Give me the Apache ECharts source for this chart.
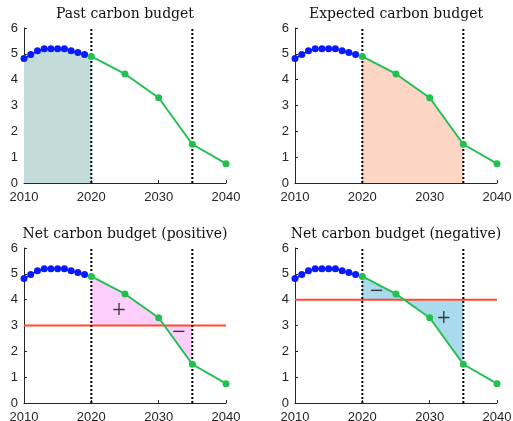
<!DOCTYPE html>
<html><head><meta charset="utf-8">
<script src="https://cdn.jsdelivr.net/npm/echarts@6/dist/echarts.min.js"></script>
<style>html,body{margin:0;padding:0;background:#fff}#c{width:513px;height:421px}</style>
</head><body><div id="c"></div>
<script>
// ---- data ----
const pastYears = [2010, 2011, 2012, 2013, 2014, 2015, 2016, 2017, 2018, 2019];
const pastValues = [4.82, 4.97, 5.12, 5.2, 5.2, 5.2, 5.2, 5.12, 5.05, 4.97];
const futureYears = [2020, 2025, 2030, 2035, 2040];
const futureValues = [4.9, 4.22, 3.3, 1.5, 0.75];
const budgetStart = 2020;
const budgetEnd = 2035;
const panelTitles = ['Past carbon budget', 'Expected carbon budget', 'Net carbon budget (positive)', 'Net carbon budget (negative)'];
const netLevels = [3, 4];
const positiveSigns = [['+', 2024.1, 3.6], ['\u2212', 2033.0, 2.74]];
const negativeSigns = [['\u2212', 2022.1, 4.32], ['+', 2032.1, 3.28]];
const xTicks = [2010, 2020, 2030, 2040];
const yTicks = [0, 1, 2, 3, 4, 5, 6];

// ---- styling ----
const C = {
  axis: '#262626', blue: '#0a1aff', green: '#22c050', red: '#ff4a30',
  teal: '#c2dcdc', peach: '#fdd5c4', pink: '#fccffb', lightblue: '#a9dbec'
};
const grids = [
  {left: 24, right: 287, top: 28, bottom: 238, outerBoundsMode: 'none'},
  {left: 295, right: 16, top: 28, bottom: 238, outerBoundsMode: 'none'},
  {left: 24, right: 287, top: 248, bottom: 18, outerBoundsMode: 'none'},
  {left: 295, right: 16, top: 248, bottom: 18, outerBoundsMode: 'none'}
];
const titlePos = [[125, 14], [396, 14], [125, 234], [396, 234]];

const pastPts = pastYears.map((y, i) => [y, pastValues[i]]);
const futPts = futureYears.map((y, i) => [y, futureValues[i]]);
const budgetPts = futPts.filter(p => p[0] >= budgetStart && p[0] <= budgetEnd);

function polySeries(idx, pts, color) {
  return {
    type: 'custom', xAxisIndex: idx, yAxisIndex: idx, silent: true, z: 1,
    data: [pts[0]],
    renderItem: (params, api) => ({
      type: 'polygon',
      shape: {points: pts.map(p => api.coord(p))},
      style: {fill: color}
    })
  };
}

const xAxes = [], yAxes = [], series = [];
for (let i = 0; i < 4; i++) {
  xAxes.push({
    type: 'value', gridIndex: i, min: xTicks[0], max: xTicks[xTicks.length - 1], interval: 10,
    axisLine: {show: true, onZero: false, lineStyle: {color: C.axis, width: 1}},
    axisTick: {show: true, inside: true, length: 3, lineStyle: {color: C.axis}},
    axisLabel: {color: C.axis, fontFamily: 'Liberation Sans', fontSize: 13, margin: 8,
      showMinLabel: true, showMaxLabel: true, formatter: v => String(v)},
    splitLine: {show: false}
  });
  yAxes.push({
    type: 'value', gridIndex: i, min: yTicks[0], max: yTicks[yTicks.length - 1], interval: 1,
    axisLine: {show: true, onZero: false, lineStyle: {color: C.axis, width: 1}},
    axisTick: {show: true, inside: true, length: 3, lineStyle: {color: C.axis}},
    axisLabel: {color: C.axis, fontFamily: 'Liberation Sans', fontSize: 13, margin: 6},
    splitLine: {show: false}
  });
}

series.push(polySeries(0, pastPts.concat([futPts[0], [budgetStart, 0], [pastYears[0], 0]]), C.teal));
series.push(polySeries(1, budgetPts.concat([[budgetEnd, 0], [budgetStart, 0]]), C.peach));
series.push(polySeries(2, budgetPts.concat([[budgetEnd, netLevels[0]], [budgetStart, netLevels[0]]]), C.pink));
series.push(polySeries(3, budgetPts.concat([[budgetEnd, netLevels[1]], [budgetStart, netLevels[1]]]), C.lightblue));

for (let i = 0; i < 4; i++) {
  if (i >= 2) {
    const lv = netLevels[i - 2];
    series.push({type: 'line', xAxisIndex: i, yAxisIndex: i, data: [[xTicks[0], lv], [xTicks[xTicks.length - 1], lv]],
      symbol: 'none', silent: true, z: 3, lineStyle: {color: C.red, width: 2}});
  }
  [budgetStart, budgetEnd].forEach(x => {
    series.push({type: 'line', xAxisIndex: i, yAxisIndex: i, data: [[x, yTicks[0]], [x, yTicks[yTicks.length - 1]]],
      symbol: 'none', silent: true, z: 4, lineStyle: {color: '#000', width: 2, type: [2, 2]}});
  });
  series.push({type: 'line', xAxisIndex: i, yAxisIndex: i, data: pastPts, symbol: 'circle', symbolSize: 7,
    silent: true, z: 5, lineStyle: {color: C.blue, width: 1.5}, itemStyle: {color: C.blue}});
  series.push({type: 'line', xAxisIndex: i, yAxisIndex: i, data: futPts, symbol: 'circle', symbolSize: 7,
    silent: true, z: 5, lineStyle: {color: C.green, width: 2}, itemStyle: {color: C.green}});
}

[[2, positiveSigns], [3, negativeSigns]].forEach(([idx, signs]) => {
  series.push({type: 'scatter', xAxisIndex: idx, yAxisIndex: idx, symbolSize: 1, silent: true, z: 6,
    itemStyle: {color: 'rgba(0,0,0,0)'},
    data: signs.map(s => ({value: [s[1], s[2]], name: s[0]})),
    label: {show: true, position: 'inside', formatter: p => p.name, color: '#111',
      fontFamily: 'DejaVu Serif', fontSize: 18, fontWeight: 'normal'}});
});

const graphic = panelTitles.map((t, i) => ({
  type: 'text', x: titlePos[i][0], y: titlePos[i][1], silent: true,
  style: {text: t, fill: '#111', font: '14px "DejaVu Serif"', align: 'center', verticalAlign: 'middle'}
}));

const chart = echarts.init(document.getElementById('c'), null, {renderer: 'canvas'});
chart.setOption({
  animation: false, backgroundColor: '#fff',
  grid: grids, xAxis: xAxes, yAxis: yAxes, series: series, graphic: graphic
});
</script>
</body></html>
